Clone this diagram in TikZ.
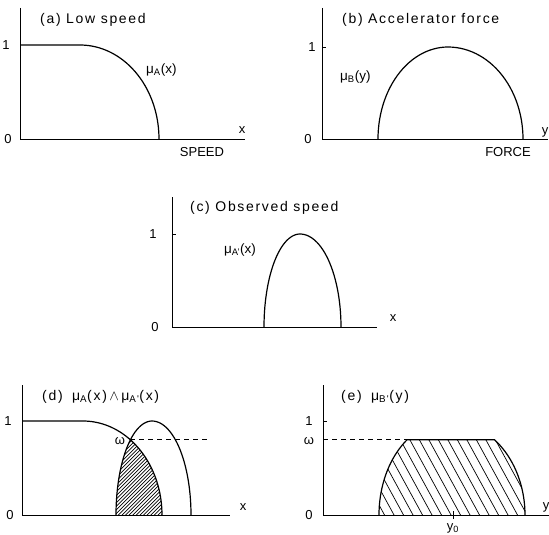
\documentclass[tikz,border=0pt]{standalone}
\usepackage{fontspec}
\setmainfont{Liberation Sans}
\newfontfamily\tfont[LetterSpace=12]{Liberation Sans}
\begin{document}
\begin{tikzpicture}[x=1pt,y=-1pt,
  ax/.style={line width=0.9pt},
  crv/.style={line width=1.2pt},
  dsh/.style={line width=0.9pt,dash pattern=on 5pt off 4pt},
  num/.style={font=\fontsize{13}{13}\selectfont,inner sep=0pt},
  ttl/.style={font=\tfont\fontsize{14}{14}\selectfont,anchor=west,inner sep=0pt},
  lbl/.style={font=\fontsize{13.5}{13.5}\selectfont,anchor=west,inner sep=0pt},
  unit/.style={font=\fontsize{13}{13}\selectfont,inner sep=0pt},
  hat/.style={line width=0.7pt}]
\useasboundingbox (0,0) rectangle (549,535);

% ---------- (a) ----------
\draw[ax] (20,8) -- (20,139) -- (245,139);
\draw[crv] (20,45) -- (80,45) -- plot[domain=90:0,samples=40] ({80+79*cos(\x)},{139-94*sin(\x)});
\node[num] (a1) at (6,45) {1};
\node[num] (a0) at (8,139) {0};
\node[ttl] (at) at (40,20) {(a) Low speed};
\node[lbl] (al) at (146,70) {μ\textsubscript{A}(x)};
\node[num] (ax) at (242,130) {x};
\node[unit] (as) at (202,152) {SPEED};

% ---------- (b) ----------
\draw[ax] (322,8) -- (322,139) -- (548,139);
\draw[ax] (322,47) -- (326,47);
\draw[crv] plot[domain=180:90,samples=30] ({448+70*cos(\x)},{139-92*sin(\x)})
  -- plot[domain=90:0,samples=30] ({448+75*cos(\x)},{139-92*sin(\x)});
\node[num] (b1) at (312,47) {1};
\node[num] (b0) at (308,139) {0};
\node[ttl] (bt) at (342,20) {(b) Accelerator force};
\node[lbl] (bl) at (340,77) {μ\textsubscript{B}(y)};
\node[num] (by) at (545,132) {y};
\node[unit] (bs) at (508,152) {FORCE};

% ---------- (c) ----------
\draw[ax] (172,197) -- (172,327) -- (377,327);
\draw[ax] (172,234) -- (176,234);
\draw[crv] plot[domain=180:90,samples=30] ({300+36*cos(\x)},{327-93*sin(\x)})
  -- plot[domain=90:0,samples=30] ({300+41*cos(\x)},{327-93*sin(\x)});
\node[num] (c1) at (153,234) {1};
\node[num] (c0) at (155,327) {0};
\node[ttl] (ct) at (190,208) {(c) Observed speed};
\node[lbl] (cl) at (224,250) {μ\textsubscript{A'}(x)};
\node[num] (cx) at (393,318) {x};

% ---------- (d) ----------
\begin{scope}
\clip plot[domain=180:126.87,samples=20] ({152+36*cos(\x)},{515-94*sin(\x)})
  -- plot[domain=53.13:0,samples=20] ({83+79*cos(\x)},{515-94*sin(\x)}) -- cycle;
\foreach \i in {0,3.6,...,160} \draw[hat] (40+\i,525) -- ++(100,-100);
\end{scope}
\draw[ax] (22,385) -- (22,515) -- (230,515);
\draw[crv] (22,421) -- (83,421) -- plot[domain=90:0,samples=40] ({83+79*cos(\x)},{515-94*sin(\x)});
\draw[crv] plot[domain=180:90,samples=30] ({152+36*cos(\x)},{515-94*sin(\x)})
  -- plot[domain=90:0,samples=30] ({152+39*cos(\x)},{515-94*sin(\x)});
\coordinate (dw) at (130.4,439.8);
\coordinate (de) at (208,439.8);
\draw[dsh] (dw) -- (de);
\node[num] (d1) at (8,421) {1};
\node[num] (d0) at (10,515) {0};
\node[num] (dom) at (120,441) {ω};
\node[ttl] (dt) at (42,397) {(d)\; μ\textsubscript{A}(x)$\,\wedge\,$μ\textsubscript{A'}(x)};
\node[num] (dx) at (243,507) {x};

% ---------- (e) ----------
\begin{scope}
\clip plot[domain=180:126.87,samples=20] ({449+70*cos(\x)},{515-94*sin(\x)})
  -- plot[domain=53.13:0,samples=20] ({449+76*cos(\x)},{515-94*sin(\x)}) -- cycle;
\foreach \i in {0,9.5,...,230} \draw[hat] (300+\i,430) -- ++(52,95);
\end{scope}
\draw[ax] (323,385) -- (323,515) -- (549,515);
\draw[ax] (323,421) -- (327,421);
\draw[ax] (453,511) -- (453,519);
\draw[crv] plot[domain=180:126.87,samples=20] ({449+70*cos(\x)},{515-94*sin(\x)})
  -- plot[domain=53.13:0,samples=20] ({449+76*cos(\x)},{515-94*sin(\x)});
\coordinate (ew) at (323,439.8);
\coordinate (ee) at (407,439.8);
\draw[dsh] (ew) -- (ee);
\node[num] (e1) at (309,421) {1};
\node[num] (eom) at (309,441) {ω};
\node[num] (e0) at (309,515) {0};
\node[ttl] (et) at (341,397) {(e)\; μ\textsubscript{B'}(y)};
\node[num] (ey) at (546,507) {y};
\node[num] (ey0) at (453,528) {y\textsubscript{0}};
\end{tikzpicture}
\end{document}
